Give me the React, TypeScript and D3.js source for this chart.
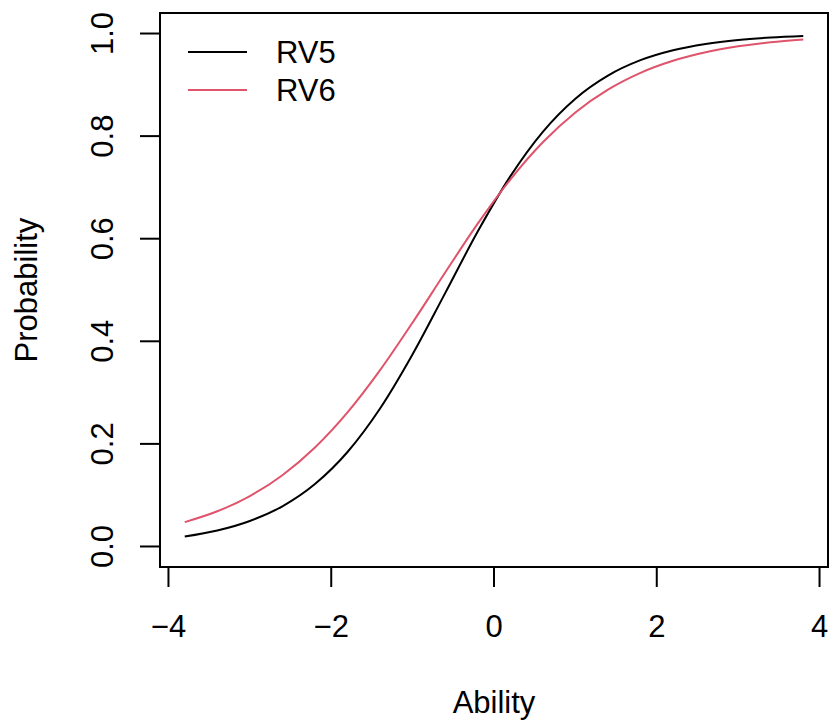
import React from 'react'
import * as d3 from 'd3'

// ability grid and the two item curves
const ability = [-3.8, -3.4, -3.0, -2.6, -2.2, -1.8, -1.4, -1.0, -0.6, -0.2, 0.2, 0.6, 1.0, 1.4, 1.8, 2.2, 2.6, 3.0, 3.4, 3.8]
const rv5 = [0.0193, 0.0311, 0.0497, 0.0784, 0.1218, 0.1842, 0.2689, 0.3747, 0.4939, 0.614, 0.7215, 0.8084, 0.873, 0.918, 0.948, 0.9674, 0.9797, 0.9875, 0.9923, 0.9952]
const rv6 = [0.0475, 0.0687, 0.0984, 0.139, 0.193, 0.2614, 0.3437, 0.4366, 0.534, 0.6293, 0.7153, 0.788, 0.8462, 0.8906, 0.9234, 0.9469, 0.9635, 0.975, 0.983, 0.9884]
const seriesNames = ['RV5', 'RV6']
const seriesColors = ['#000000', '#DF536B']
const xTicks = [-4, -2, 0, 2, 4]
const yTicks = [0, 0.2, 0.4, 0.6, 0.8, 1.0]

const W = 831, H = 725
const left = 160, right = 828, top = 13, bottom = 567
const font = '"Liberation Sans", Arial, sans-serif'

const App = () => {
    const x = d3.scaleLinear().domain([-4.104, 4.104]).range([left, right])
    const y = d3.scaleLinear().domain([-0.04, 1.04]).range([bottom, top])

    const line = d3.line<number>()
        .x((d, i) => x(ability[i]))
        .y(d => y(d))
        .curve(d3.curveMonotoneX)

    const series = [rv5, rv6]

    return (
        <svg width={W} height={H} style={{ position: 'absolute', left: 0, top: 0, background: '#fff' }}
            fontFamily={font} fontSize={31}>
            <rect x={left} y={top} width={right - left} height={bottom - top} fill='none' stroke='#000' strokeWidth={2} />

            {series.map((s, k) => (
                <path key={k} d={line(s) || ''} fill='none' stroke={seriesColors[k]} strokeWidth={2} />
            ))}

            {/* x axis */}
            <line x1={x(-4)} x2={x(4)} y1={bottom} y2={bottom} stroke='#000' strokeWidth={2} />
            {xTicks.map(t => (
                <g key={t}>
                    <line x1={x(t)} x2={x(t)} y1={bottom} y2={bottom + 20} stroke='#000' strokeWidth={2} />
                    <text x={x(t)} y={637} textAnchor='middle'>{t < 0 ? '\u2212' + Math.abs(t) : String(t)}</text>
                </g>
            ))}

            {/* y axis */}
            <line x1={left} x2={left} y1={y(0)} y2={y(1)} stroke='#000' strokeWidth={2} />
            {yTicks.map(t => (
                <g key={t}>
                    <line x1={left - 20} x2={left} y1={y(t)} y2={y(t)} stroke='#000' strokeWidth={2} />
                    <text transform={`translate(113,${y(t)}) rotate(-90)`} textAnchor='middle'>{t.toFixed(1)}</text>
                </g>
            ))}

            <text x={(left + right) / 2} y={713} textAnchor='middle'>Ability</text>
            <text transform={`translate(37,${(top + bottom) / 2}) rotate(-90)`} textAnchor='middle'>Probability</text>

            {/* legend */}
            {seriesNames.map((n, k) => (
                <g key={n}>
                    <line x1={188} x2={247} y1={52 + k * 38} y2={52 + k * 38} stroke={seriesColors[k]} strokeWidth={2} />
                    <text x={276} y={63 + k * 38}>{n}</text>
                </g>
            ))}
        </svg>
    )
}

export default App
